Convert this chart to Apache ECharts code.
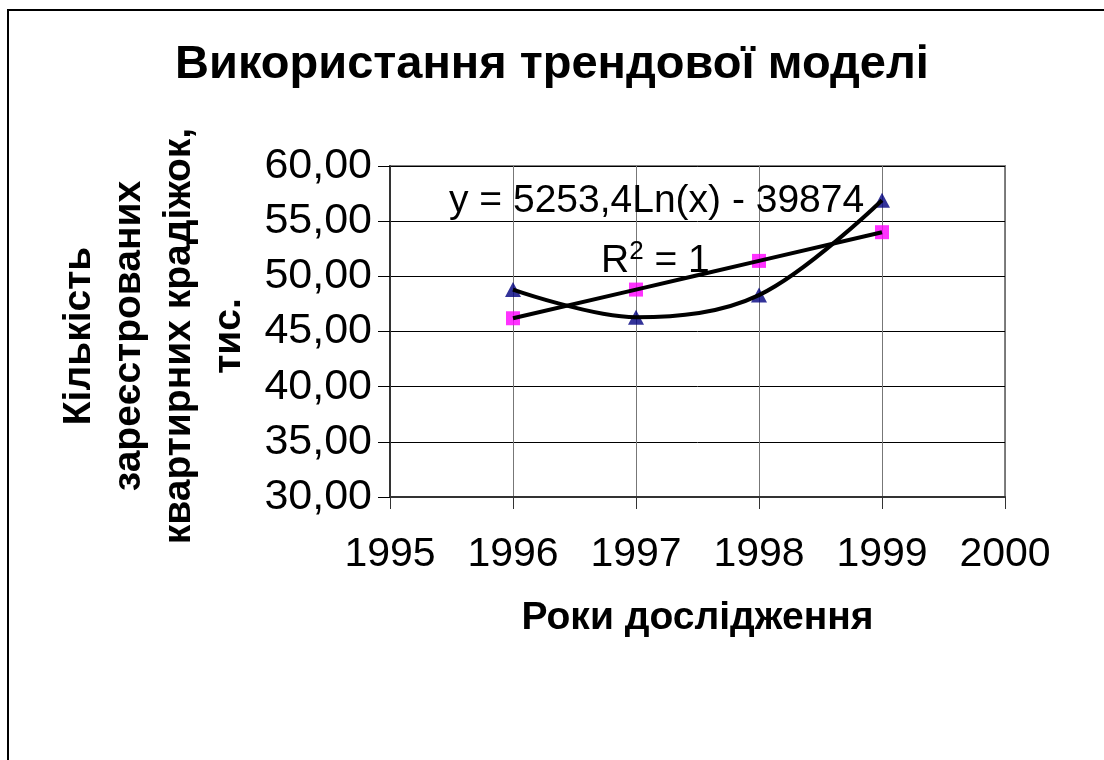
<!DOCTYPE html>
<html>
<head>
<meta charset="utf-8" />
<title>trend</title>
<script src="https://cdn.jsdelivr.net/npm/echarts@6/dist/echarts.min.js"></script>
<style>
  html, body { margin: 0; padding: 0; background: #fff; }
  #main { width: 1104px; height: 760px; }
</style>
</head>
<body>
<div id="main"></div>
<script>
// дані з рисунка
var years = [1996, 1997, 1998, 1999];
var triangleVals = [48.8, 46.3, 48.3, 56.9];   // сині трикутники
var squareVals = [46.2, 48.8, 51.4, 54.0];     // рожеві квадрати
var yMin = 30, yMax = 60, yStep = 5;
var xMin = 1995, xMax = 2000, xStep = 1;

var FONT = 'Liberation Sans, Arial, sans-serif';

function pairs(xs, ys) {
  return xs.map(function (x, i) { return [x, ys[i]]; });
}

var chart = echarts.init(document.getElementById('main'));

chart.setOption({
  backgroundColor: '#fff',
  animation: false,
  textStyle: { fontFamily: FONT },
  title: {
    text: 'Використання трендової моделі',
    left: 'center',
    top: 37,
    textStyle: { fontSize: 47, fontWeight: 'bold', color: '#000', fontFamily: FONT }
  },
  grid: {
    left: 390, right: 99, top: 166, bottom: 263,
    show: true, borderColor: '#808080', borderWidth: 2, backgroundColor: '#fff'
  },
  xAxis: {
    type: 'value',
    min: xMin, max: xMax, interval: xStep,
    name: 'Роки дослідження',
    nameLocation: 'middle',
    nameGap: 102,
    nameTextStyle: { fontSize: 39, fontWeight: 'bold', color: '#000', fontFamily: FONT },
    axisLine: { show: true, onZero: false, lineStyle: { color: '#333', width: 2 } },
    axisTick: { show: true, length: 12, lineStyle: { color: '#333' } },
    axisLabel: {
      fontSize: 41, color: '#000', margin: 37, fontFamily: FONT,
      formatter: function (v) { return String(v); }
    },
    splitLine: { show: true, lineStyle: { color: '#777', width: 1 } }
  },
  yAxis: {
    type: 'value',
    min: yMin, max: yMax, interval: yStep,
    axisLine: { show: true, lineStyle: { color: '#333', width: 2 } },
    axisTick: { show: true, length: 12, lineStyle: { color: '#000' } },
    axisLabel: {
      fontSize: 43, color: '#000', margin: 18, fontFamily: FONT,
      formatter: function (v) { return v.toFixed(2).replace('.', ','); }
    },
    splitLine: { show: true, lineStyle: { color: '#000', width: 1 } }
  },
  graphic: [
    {
      type: 'polyline',
      shape: { points: [[8, 760], [8, 10], [1104, 10]] },
      style: { stroke: '#000', lineWidth: 2, fill: null },
      silent: true
    },
    {
      type: 'text',
      style: {
        text: 'Кількість\nзареєстрованих\nквартирних крадіжок,\nтис.',
        font: 'bold 39px ' + FONT,
        fill: '#000',
        textAlign: 'center',
        textVerticalAlign: 'middle',
        lineHeight: 50
      },
      position: [154, 336],
      rotation: Math.PI / 2,
      silent: true
    },
    {
      type: 'text',
      z: 100,
      style: {
        text: 'y = 5253,4Ln(x) - 39874',
        font: '39px ' + FONT,
        fill: '#000'
      },
      position: [449, 182],
      silent: true
    },
    {
      type: 'text',
      z: 100,
      style: {
        text: 'R{s|2} = 1',
        font: '39px ' + FONT,
        fill: '#000',
        rich: { s: { fontSize: 26, verticalAlign: 'top', padding: [0, 0, 18, 0], fontFamily: FONT } }
      },
      position: [601, 239],
      silent: true
    }
  ],
  series: [
    {
      name: 'трикутники',
      type: 'scatter',
      symbol: 'triangle',
      symbolSize: [16, 15],
      itemStyle: { color: '#000080' },
      z: 3,
      data: pairs(years, triangleVals)
    },
    {
      name: 'квадрати',
      type: 'scatter',
      symbol: 'rect',
      symbolSize: 14,
      itemStyle: { color: '#ff00ff' },
      z: 3,
      data: pairs(years, squareVals)
    },
    {
      name: 'тренд 1',
      type: 'line',
      smooth: 0.35,
      showSymbol: false,
      symbol: 'none',
      lineStyle: { color: '#000', width: 4 },
      z: 5,
      data: pairs(years, triangleVals)
    },
    {
      name: 'тренд 2',
      type: 'line',
      smooth: 0.5,
      showSymbol: false,
      symbol: 'none',
      lineStyle: { color: '#000', width: 4 },
      z: 5,
      data: pairs(years, squareVals)
    }
  ]
});

window.onresize = function () {
  chart.resize();
};
</script>
</body>
</html>
